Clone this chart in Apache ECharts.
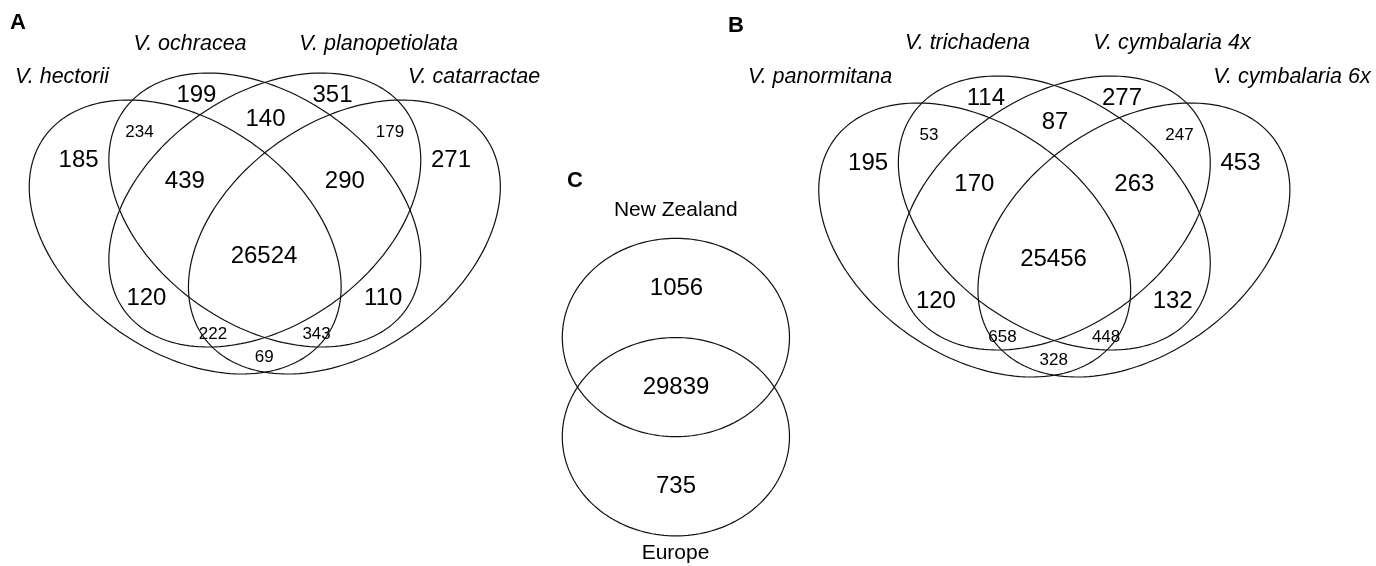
<!DOCTYPE html>
<html><head><meta charset="utf-8">
<script src="https://cdn.jsdelivr.net/npm/echarts@6/dist/echarts.min.js"></script>
<style>html,body{margin:0;padding:0;background:#fff}#c{width:1376px;height:566px}</style>
</head><body><div id="c"></div>
<script>
// ================= DATA =================
const panelLetters = ['A', 'B', 'C'];
const setsA = ['V. hectorii', 'V. ochracea', 'V. planopetiolata', 'V. catarractae'];
const setsB = ['V. panormitana', 'V. trichadena', 'V. cymbalaria 4x', 'V. cymbalaria 6x'];
const setsC = ['New Zealand', 'Europe'];
// region = which sets (1..4) share the genes
const regionKeys4 = ['1', '2', '3', '4', '12', '23', '34', '13', '24', '14', '123', '234', '134', '124', '1234'];
const countsA = [185, 199, 351, 271, 234, 140, 179, 120, 110, 69, 439, 290, 222, 343, 26524];
const countsB = [195, 114, 277, 453, 53, 87, 247, 120, 132, 328, 170, 263, 658, 448, 25456];
const regionKeys2 = ['1', '12', '2'];
const countsC = [1056, 29839, 735];

// ================= LAYOUT (diagram units, 1 unit = 1 px) =================
const FONT = '"Liberation Sans", Arial, Helvetica, sans-serif';
const LINE = '#111';
const TXT = '#000';
const L4 = {
  a: 172.7, b: 115.2,
  ellipses: [[185.2, 237, 35.2], [264.8, 210, 35.2], [264.8, 210, -35.2], [344.4, 237, -35.2]],
  regionPos: {
    '1': [78.6, 160.8], '2': [196.4, 95.8], '3': [332.5, 95.8], '4': [451, 160.8],
    '12': [139.5, 132.5], '23': [265.5, 119.2], '34': [390, 132.5],
    '13': [146.4, 298.3], '24': [383.2, 298.3], '14': [264.3, 357.5],
    '123': [184.8, 181.7], '234': [344.8, 181.7], '134': [213, 334.2], '124': [316.6, 334.2],
    '1234': [264, 256]
  },
  small: ['12', '34', '134', '124', '14'],
  bigSize: 24, smallSize: 17, setSize: 21.5
};
const setPosA = [[62, 77.5], [190, 44.2], [378.6, 44.2], [474, 77.5]];
const setPosB = [[30.5, 73.7], [178, 40.3], [382.5, 40.3], [502.5, 73.7]];
const L2 = {
  rx: 113.6, ry: 99.2,
  ellipses: [[135.9, 187.5], [135.9, 286.7]],
  regionPos: { '1': [136.5, 138.5], '12': [136, 237.5], '2': [136, 336.5] },
  setPos: [[135.8, 60], [135.5, 403.5]],
  numSize: 24, setSize: 21
};
const grids = [
  { left: 0, top: 0, width: 600, height: 420 },
  { left: 789.5, top: 3, width: 586.5, height: 420 },
  { left: 540, top: 150, width: 280, height: 416 }
];
const headerPos = [[10, 11.5], [728, 15], [567, 169.5]];

// ================= BUILD =================
function ellipseSeries(gi, names, geomFn) {
  return {
    type: 'custom', xAxisIndex: gi, yAxisIndex: gi, silent: true, clip: false,
    data: names.map((n, i) => ({ name: n, value: [i, 0] })),
    renderItem: function (params, api) {
      const g = geomFn(params.dataIndex);
      const th = g.th * Math.PI / 180;
      const pts = [];
      for (let k = 0; k < 180; k++) {
        const t = k / 180 * 2 * Math.PI;
        const x = g.cx + g.a * Math.cos(t) * Math.cos(th) - g.b * Math.sin(t) * Math.sin(th);
        const y = g.cy + g.a * Math.cos(t) * Math.sin(th) + g.b * Math.sin(t) * Math.cos(th);
        pts.push(api.coord([x, y]));
      }
      return { type: 'polygon', shape: { points: pts }, style: { fill: 'none', stroke: LINE, lineWidth: 1.2 } };
    }
  };
}
function labelSeries(gi, items) {
  return {
    type: 'scatter', xAxisIndex: gi, yAxisIndex: gi, symbolSize: 1, silent: true, clip: false,
    itemStyle: { color: 'rgba(0,0,0,0)', opacity: 1 },
    data: items.map(it => ({
      value: [it.x, it.y],
      label: {
        show: true, position: 'inside', formatter: it.text, fontSize: it.size, opacity: 1,
        fontStyle: it.italic ? 'italic' : 'normal', fontFamily: FONT, color: TXT
      }
    }))
  };
}
function venn4Labels(counts) {
  return regionKeys4.map((k, i) => ({
    x: L4.regionPos[k][0], y: L4.regionPos[k][1], text: String(counts[i]),
    size: L4.small.indexOf(k) >= 0 ? L4.smallSize : L4.bigSize
  }));
}
function setLabels(names, pos, size, italic) {
  return names.map((n, i) => ({ x: pos[i][0], y: pos[i][1], text: n, size: size, italic: italic }));
}
const geom4 = i => ({ cx: L4.ellipses[i][0], cy: L4.ellipses[i][1], th: L4.ellipses[i][2], a: L4.a, b: L4.b });
const geom2 = i => ({ cx: L2.ellipses[i][0], cy: L2.ellipses[i][1], th: 0, a: L2.rx, b: L2.ry });

const option = {
  backgroundColor: '#fff',
  animation: false,
  title: panelLetters.map((t, i) => ({
    text: t, left: headerPos[i][0], top: headerPos[i][1], padding: 0,
    textStyle: { fontSize: 22, fontWeight: 'bold', fontFamily: FONT, color: '#000' }
  })),
  grid: grids,
  xAxis: grids.map((g, i) => ({ type: 'value', gridIndex: i, min: 0, max: g.width, show: false })),
  yAxis: grids.map((g, i) => ({ type: 'value', gridIndex: i, min: 0, max: g.height, inverse: true, show: false })),
  series: [
    ellipseSeries(0, setsA, geom4),
    labelSeries(0, venn4Labels(countsA).concat(setLabels(setsA, setPosA, L4.setSize, true))),
    ellipseSeries(1, setsB, geom4),
    labelSeries(1, venn4Labels(countsB).concat(setLabels(setsB, setPosB, L4.setSize, true))),
    ellipseSeries(2, setsC, geom2),
    labelSeries(2, regionKeys2.map((k, i) => ({ x: L2.regionPos[k][0], y: L2.regionPos[k][1], text: String(countsC[i]), size: L2.numSize }))
      .concat(setLabels(setsC, L2.setPos, L2.setSize, false)))
  ]
};
const chart = echarts.init(document.getElementById('c'), null, { renderer: 'canvas' });
chart.setOption(option);
</script>
</body></html>
